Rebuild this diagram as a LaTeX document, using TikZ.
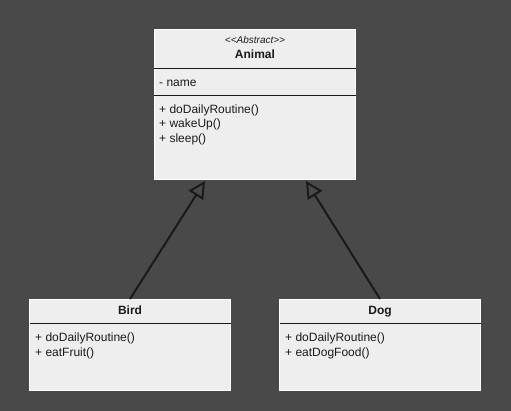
\documentclass[tikz,border=0pt]{standalone}
\usepackage{fontspec}
\setmainfont{Liberation Sans}
\usetikzlibrary{arrows.meta}
\definecolor{bgcol}{HTML}{494949}
\definecolor{boxcol}{HTML}{EEEEEE}
\definecolor{inkcol}{HTML}{1A1A1A}
\tikzset{
  classbox/.style={draw=white, line width=1pt, fill=boxcol, minimum width=201pt, inner sep=0pt},
  sepline/.style={draw=inkcol, line width=1pt},
  classname/.style={inner sep=0pt, text height=8.6pt, text depth=2.5pt, text=inkcol, font=\fontsize{12pt}{14pt}\selectfont\bfseries},
  member/.style={anchor=west, inner sep=0pt, text height=8.6pt, text depth=2.5pt, text=inkcol, font=\fontsize{12pt}{14pt}\selectfont},
  extends/.style={draw=inkcol, line width=2pt, -{Triangle[open, length=17pt, width=17pt]}}
}
\begin{document}
\begin{tikzpicture}[x=1pt, y=-1pt]
\fill[bgcol] (0,0) rectangle (511,411);
\useasboundingbox (0,0) rectangle (511,411);
% Animal
\node[classbox, minimum height=150pt] (animal) at (255,105) {};
\node[inner sep=0pt, text=inkcol, font=\fontsize{10pt}{12pt}\selectfont\itshape] (animalstereo) at (255,40) {<\kern0pt<Abstract>\kern0pt>};
\node[classname] (animalname) at (255,55) {Animal};
\draw[sepline] (154,69) -- (356,69);
\node[member] (animalattr) at (159,83) {- name};
\draw[sepline] (154,96) -- (356,96);
\node[member] (animalm1) at (159,110) {+ doDailyRoutine()};
\node[member] (animalm2) at (159,124) {+ wakeUp()};
\node[member] (animalm3) at (159,139) {+ sleep()};
% Bird
\node[classbox, minimum height=91pt] (bird) at (130,345) {};
\node[classname] (birdname) at (130,311) {Bird};
\draw[sepline] (30,324) -- (231,324);
\node[member] (birdm1) at (35,338) {+ doDailyRoutine()};
\node[member] (birdm2) at (35,353) {+ eatFruit()};
% Dog
\node[classbox, minimum height=91pt] (dog) at (380,345) {};
\node[classname] (dogname) at (380,311) {Dog};
\draw[sepline] (280,324) -- (481,324);
\node[member] (dogm1) at (285,338) {+ doDailyRoutine()};
\node[member] (dogm2) at (285,353) {+ eatDogFood()};
% generalisation
\coordinate (birdend) at (205,181);
\coordinate (dogend) at (306,181);
\draw[extends] (bird.north) -- (birdend);
\draw[extends] (dog.north) -- (dogend);
\end{tikzpicture}
\end{document}
